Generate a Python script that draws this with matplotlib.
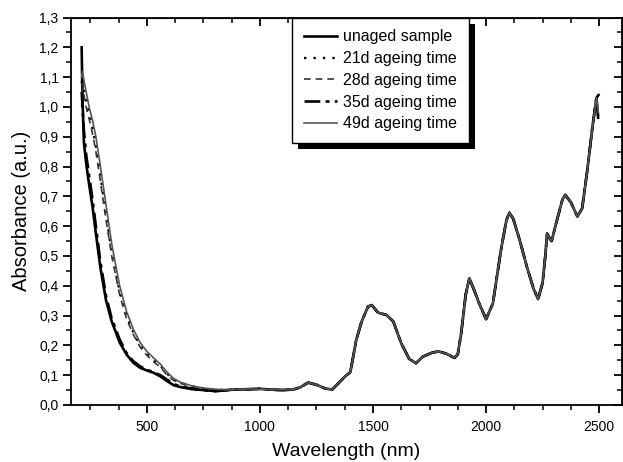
import matplotlib
matplotlib.use("Agg")
import matplotlib.pyplot as plt
from matplotlib.patches import Rectangle
from matplotlib.ticker import MultipleLocator, FuncFormatter
from matplotlib.transforms import IdentityTransform

plt.rcParams["font.family"] = ["Liberation Sans", "DejaVu Sans"]

# UV/VIS part: the five spectra differ here
wl_uv = [212, 216, 222, 232, 245, 260, 275, 295, 320, 345, 380, 410, 440, 470,
         500, 530, 560, 590, 620, 650, 700, 750, 800, 850, 900, 950, 1000, 1050, 1100]
abs_unaged_uv = [1.20, 1.02, 0.88, 0.81, 0.74, 0.665, 0.575, 0.46, 0.35, 0.28, 0.21, 0.17,
                 0.142, 0.125, 0.116, 0.108, 0.096, 0.080, 0.066, 0.060, 0.053, 0.050,
                 0.047, 0.050, 0.052, 0.053, 0.054, 0.052, 0.050]
abs_21d_uv = [1.08, 1.10, 1.06, 1.02, 0.98, 0.93, 0.87, 0.77, 0.64, 0.51, 0.38, 0.30,
              0.245, 0.200, 0.172, 0.150, 0.132, 0.105, 0.085, 0.074, 0.063, 0.056,
              0.052, 0.050, 0.053, 0.052, 0.055, 0.051, 0.050]
abs_28d_uv = [1.00, 1.08, 1.04, 1.00, 0.96, 0.91, 0.85, 0.75, 0.62, 0.50, 0.37, 0.29,
              0.237, 0.195, 0.167, 0.145, 0.127, 0.100, 0.082, 0.072, 0.062, 0.055,
              0.050, 0.051, 0.052, 0.054, 0.053, 0.052, 0.050]
abs_35d_uv = [1.05, 1.00, 0.92, 0.84, 0.77, 0.69, 0.60, 0.48, 0.365, 0.29, 0.22, 0.175,
              0.147, 0.130, 0.118, 0.110, 0.100, 0.085, 0.070, 0.062, 0.055, 0.050,
              0.046, 0.049, 0.052, 0.053, 0.054, 0.051, 0.050]
abs_49d_uv = [1.10, 1.12, 1.09, 1.05, 1.00, 0.955, 0.90, 0.80, 0.67, 0.54, 0.40, 0.315,
              0.255, 0.210, 0.180, 0.158, 0.137, 0.110, 0.088, 0.076, 0.064, 0.057,
              0.053, 0.051, 0.052, 0.054, 0.053, 0.052, 0.051]

# NIR part: all spectra overlap
wl_nir = [1150, 1180, 1213, 1250, 1290, 1320, 1350, 1380, 1400, 1426, 1450, 1478,
          1495, 1522, 1560, 1590, 1625, 1660, 1690, 1720, 1760, 1790, 1825, 1860,
          1875, 1890, 1910, 1926, 1945, 1970, 2000, 2030, 2066, 2090, 2103, 2120,
          2150, 2180, 2210, 2230, 2250, 2262, 2270, 2280, 2290, 2310, 2338, 2350,
          2375, 2404, 2425, 2448, 2470, 2488]
abs_nir = [0.052, 0.060, 0.075, 0.068, 0.055, 0.052, 0.075, 0.098, 0.110, 0.218,
           0.280, 0.330, 0.335, 0.310, 0.302, 0.280, 0.207, 0.155, 0.140, 0.162,
           0.175, 0.180, 0.172, 0.158, 0.170, 0.240, 0.370, 0.425, 0.390, 0.340,
           0.288, 0.340, 0.520, 0.620, 0.645, 0.625, 0.550, 0.465, 0.390, 0.355,
           0.410, 0.500, 0.575, 0.560, 0.550, 0.610, 0.690, 0.705, 0.680, 0.632,
           0.660, 0.790, 0.930, 1.030]
wl_end = 2497
abs_end = [1.04, 0.96, 1.00, 0.95, 0.98]

labels = ["unaged sample", "21d ageing time", "28d ageing time",
          "35d ageing time", "49d ageing time"]
uv_series = [abs_unaged_uv, abs_21d_uv, abs_28d_uv, abs_35d_uv, abs_49d_uv]
styles = [
    dict(color="black", linestyle="-", linewidth=1.9),
    dict(color="black", linestyle=(0, (1, 3)), linewidth=1.7),
    dict(color="#333333", linestyle=(0, (4, 3)), linewidth=1.2),
    dict(color="black", linestyle=(0, (6, 2, 1.5, 2)), linewidth=1.9),
    dict(color="#555555", linestyle="-", linewidth=1.2),
]

fig = plt.figure(figsize=(6.23, 4.62), dpi=100)
ax = fig.add_axes([0.114, 0.1234, 0.884, 0.8387])

for uv, end, lab, st in zip(uv_series, abs_end, labels, styles):
    x = wl_uv + wl_nir + [wl_end]
    y = uv + abs_nir + [end]
    ax.plot(x, y, label=lab, **st)

ax.set_xlim(165, 2600)
ax.set_ylim(0, 1.3)

ax.xaxis.set_major_locator(MultipleLocator(500))
ax.xaxis.set_minor_locator(MultipleLocator(125))
ax.yaxis.set_major_locator(MultipleLocator(0.1))
ax.yaxis.set_minor_locator(MultipleLocator(0.05))
ax.yaxis.set_major_formatter(FuncFormatter(lambda v, _: f"{v:.1f}".replace(".", ",")))

ax.tick_params(which="major", direction="out", length=6, width=1.3, labelsize=10, pad=3)
ax.tick_params(which="minor", direction="out", length=3.5, width=1.1)
ax.tick_params(axis="x", pad=5)
for sp in ax.spines.values():
    sp.set_linewidth(1.3)

# mirrored ticks pointing into the plot on top and right
top = ax.secondary_xaxis("top")
top.xaxis.set_major_locator(MultipleLocator(500))
top.xaxis.set_minor_locator(MultipleLocator(125))
top.tick_params(which="major", direction="in", length=6, width=1.3, labeltop=False)
top.tick_params(which="minor", direction="in", length=3.5, width=1.1)
right = ax.secondary_yaxis("right")
right.yaxis.set_major_locator(MultipleLocator(0.1))
right.yaxis.set_minor_locator(MultipleLocator(0.05))
right.tick_params(which="major", direction="in", length=6, width=1.3, labelright=False)
right.tick_params(which="minor", direction="in", length=3.5, width=1.1)

ax.set_xlabel("Wavelength (nm)", fontsize=14, labelpad=6)
ax.set_ylabel("Absorbance (a.u.)", fontsize=14.5, labelpad=6)

leg = ax.legend(loc="upper left", bbox_to_anchor=(0.401, 1.0), fontsize=11.5,
                frameon=True, fancybox=False, framealpha=1.0, facecolor="white",
                handlelength=2.1, handletextpad=0.35, labelspacing=0.42,
                borderpad=0.75, borderaxespad=0.0)
leg.get_frame().set_edgecolor("black")
leg.get_frame().set_linewidth(1.0)
leg.set_zorder(6)

# solid black drop shadow behind the legend box
fig.canvas.draw()
bb = leg.get_window_extent()
ax.add_patch(Rectangle((bb.x0 + 6, bb.y0 - 6), bb.width, bb.height,
                       transform=IdentityTransform(), facecolor="black",
                       edgecolor="none", zorder=5.5, clip_on=False))

fig.savefig("out.png", dpi=100)
